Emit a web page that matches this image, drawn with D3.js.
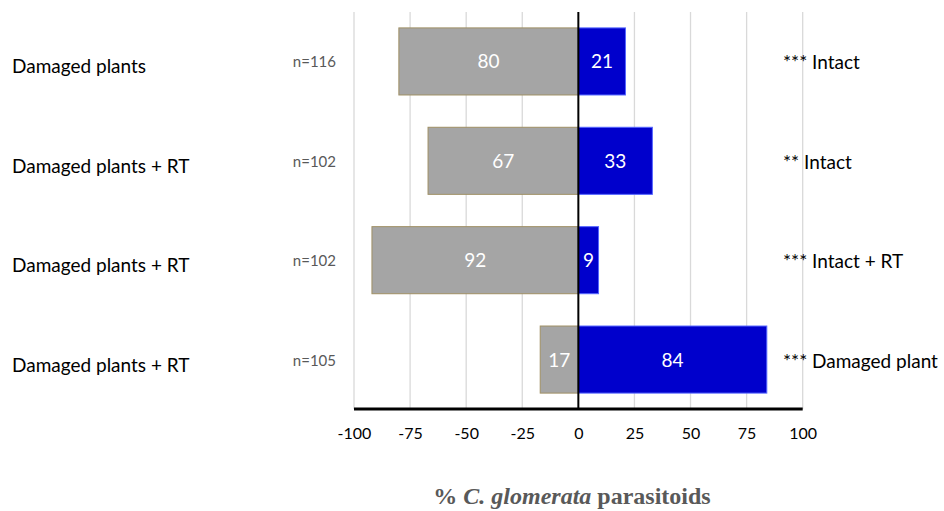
<!DOCTYPE html>
<html><head><meta charset="utf-8">
<script src="https://cdn.jsdelivr.net/npm/d3@7"></script>
<style>body{margin:0;background:#fff;}svg{display:block;}</style>
</head><body>
<script>
const categories = ["Damaged plants", "Damaged plants + RT", "Damaged plants + RT", "Damaged plants + RT"];
const sampleSizes = ["n=116", "n=102", "n=102", "n=105"];
const leftValues = [80, 67, 92, 17];
const rightValues = [21, 33, 9, 84];
const rightLabels = ["*** Intact", "** Intact", "*** Intact + RT", "*** Damaged plant"];
const tickValues = [-100, -75, -50, -25, 0, 25, 50, 75, 100];

const W = 944, H = 511;
const svg = d3.select("body").append("svg").attr("width", W).attr("height", H);
const sans = "Lato, 'Open Sans', sans-serif";

const x = d3.scaleLinear().domain([-100, 100]).range([354, 802.7]);
const y = d3.scaleBand().domain(d3.range(categories.length)).range([12, 409]).paddingInner(0.325).paddingOuter(0.16);

// gridlines
svg.append("g").selectAll("line").data(tickValues.filter(d => d !== 0)).join("line")
  .attr("x1", d => x(d)).attr("x2", d => x(d)).attr("y1", 12).attr("y2", 409)
  .attr("stroke", "#d9d9d9").attr("stroke-width", 1.3);

// bars
const rows = d3.range(categories.length);
svg.append("g").selectAll("rect").data(rows).join("rect")
  .attr("x", i => x(-leftValues[i])).attr("y", i => y(i))
  .attr("width", i => x(0) - x(-leftValues[i])).attr("height", y.bandwidth())
  .attr("fill", "#a5a5a5").attr("stroke", "#a09065").attr("stroke-width", 1);
svg.append("g").selectAll("rect").data(rows).join("rect")
  .attr("x", x(0)).attr("y", i => y(i))
  .attr("width", i => x(rightValues[i]) - x(0)).attr("height", y.bandwidth())
  .attr("fill", "#0000cc").attr("stroke", "#5566ff").attr("stroke-width", 1);

// bar value labels
svg.append("g").selectAll("text").data(rows).join("text")
  .attr("x", i => (x(-leftValues[i]) + x(0)) / 2).attr("y", i => y(i) + y.bandwidth() / 2 + 7)
  .attr("text-anchor", "middle").attr("fill", "#fff").attr("font-family", sans).attr("font-size", 19)
  .text(i => leftValues[i]);
svg.append("g").selectAll("text").data(rows).join("text")
  .attr("x", i => (x(rightValues[i]) + x(0)) / 2).attr("y", i => y(i) + y.bandwidth() / 2 + 7)
  .attr("text-anchor", "middle").attr("fill", "#fff").attr("font-family", sans).attr("font-size", 19)
  .text(i => rightValues[i]);

// zero line
svg.append("line").attr("x1", x(0)).attr("x2", x(0)).attr("y1", 12).attr("y2", 409)
  .attr("stroke", "#000").attr("stroke-width", 2);

// x axis
const axis = svg.append("g").attr("transform", "translate(0,409)")
  .call(d3.axisBottom(x).tickValues(tickValues).tickSize(0).tickPadding(19).tickFormat(d => String(d)));
axis.select(".domain").attr("stroke", "#000").attr("stroke-width", 3).attr("d", `M${x(-100)},0H${x(100)}`);
axis.selectAll("text").attr("font-family", sans).attr("font-size", 16).attr("fill", "#000").attr("dy", "0.71em");

// category labels
svg.append("g").selectAll("text").data(rows).join("text")
  .attr("x", 12).attr("y", i => y(i) + y.bandwidth() / 2 + 12)
  .attr("font-family", sans).attr("font-size", 19).attr("fill", "#000")
  .text(i => categories[i]);

// n labels
svg.append("g").selectAll("text").data(rows).join("text")
  .attr("x", 336).attr("y", i => y(i) + y.bandwidth() / 2 + 6)
  .attr("text-anchor", "end").attr("font-family", sans).attr("font-size", 15).attr("fill", "#595959")
  .text(i => sampleSizes[i]);

// right labels
svg.append("g").selectAll("text").data(rows).join("text")
  .attr("x", 783).attr("y", i => y(i) + y.bandwidth() / 2 + 8)
  .attr("font-family", sans).attr("font-size", 19).attr("fill", "#000")
  .text(i => rightLabels[i]);

// axis title
const t = svg.append("text").attr("x", 572).attr("y", 504).attr("text-anchor", "middle")
  .attr("font-family", "'Liberation Serif', 'Times New Roman', serif").attr("font-size", 24)
  .attr("font-weight", "bold").attr("fill", "#595959");
t.append("tspan").text("% ");
t.append("tspan").attr("font-style", "italic").text("C. glomerata");
t.append("tspan").text(" parasitoids");
</script>
</body></html>
